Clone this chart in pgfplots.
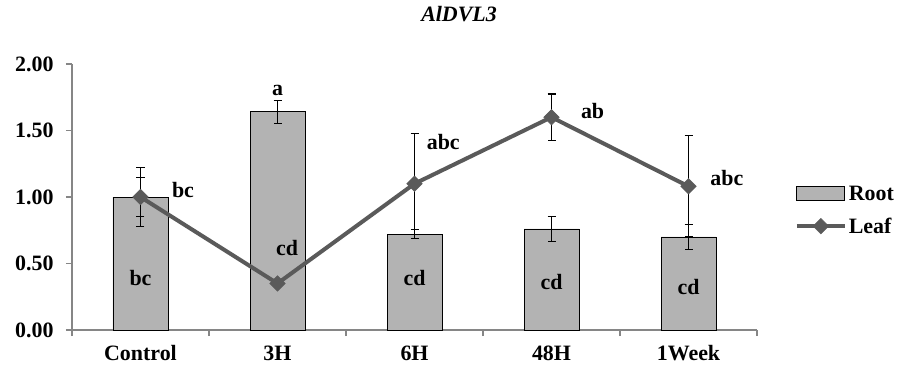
\documentclass[border=0pt]{standalone}
\usepackage{pgfplots}
\pgfplotsset{compat=1.18}
\usepackage{fontspec}
\setmainfont{Liberation Serif}
\definecolor{barfill}{RGB}{179,179,179}
\definecolor{leafline}{RGB}{90,90,90}
\definecolor{axisgray}{RGB}{134,134,134}
\newcommand{\lblfont}{\fontsize{22}{26}\selectfont\bfseries}
\pgfplotsset{
  leaflegend/.style={legend image code/.code={\draw[##1, mark repeat=2, mark phase=2] plot coordinates {(0bp,0bp) (24bp,0bp) (48bp,0bp)};}},
  rootlegend/.style={legend image code/.code={\draw[fill=barfill, draw=black, line width=0.8bp] (0bp,-7bp) rectangle (48bp,7bp);}},
}
\begin{document}
\begin{tikzpicture}
\useasboundingbox (-72bp,-36bp) rectangle (825bp,330bp);
\begin{axis}[
  at={(0,0)}, anchor=south west,
  scale only axis, width=685bp, height=266bp,
  xmin=-0.5, xmax=4.5, ymin=0, ymax=2,
  axis x line*=bottom, axis y line*=left,
  axis line style={axisgray, line width=1.2bp, -},
  tick align=outside,
  xtick={0,1,2,3,4},
  xticklabels={Control,3H,6H,48H,1Week},
  major x tick style={draw=none},
  minor xtick={-0.5,0.5,1.5,2.5,3.5,4.5},
  minor x tick style={axisgray, line width=1.2bp},
  minor tick length=6bp,
  ytick={0,0.5,1,1.5,2},
  major y tick style={axisgray, line width=1.2bp},
  major tick length=6bp,
  yticklabel style={xshift=-9bp, /pgf/number format/.cd, fixed, fixed zerofill, precision=2, assume math mode=true},
  xticklabel style={yshift=-6bp},
  tick label style={font=\lblfont},
  title={\textbf{\textit{AlDVL3}}},
  title style={at={(0.565,1.165)}, anchor=center, font=\fontsize{22}{26}\selectfont},
  legend style={at={(1.055,0.45)}, anchor=west, draw=none, fill=none, font=\lblfont, row sep=12bp, inner sep=0pt},
  legend cell align=left,
  clip=false,
]
\addplot[ybar, bar width=55bp, fill=barfill, draw=black, line width=0.8bp,
  rootlegend,
  error bars/.cd, y dir=both, y explicit,
  error bar style={black, line width=1.2bp},
  error mark options={black, line width=1.2bp, mark size=4bp, rotate=90}]
  coordinates {
    (0,1.00) +- (0,0.22)
    (1,1.64) +- (0,0.085)
    (2,0.72) +- (0,0.035)
    (3,0.76) +- (0,0.095)
    (4,0.70) +- (0,0.095)
  };
\addlegendentry{Root}
\addplot[leafline, line width=4bp, mark=square*, mark size=5.5bp,
  mark options={rotate=45, solid, line width=0.5bp, fill=leafline},
  leaflegend,
  error bars/.cd, y dir=both, y explicit,
  error bar style={black, line width=1.2bp},
  error mark options={black, line width=1.2bp, mark size=4bp, rotate=90}]
  coordinates {
    (0,1.00) +- (0,0.145)
    (1,0.35) +- (0,0.02)
    (2,1.10) +- (0,0.38)
    (3,1.60) +- (0,0.175)
    (4,1.08) +- (0,0.38)
  };
\addlegendentry{Leaf}
\node[font=\lblfont] at (axis cs:0,0.39) {bc};
\node[font=\lblfont] at (axis cs:0.31,1.05) {bc};
\node[font=\lblfont] at (axis cs:1.0,1.80) {a};
\node[font=\lblfont] at (axis cs:1.07,0.62) {cd};
\node[font=\lblfont] at (axis cs:2.21,1.41) {abc};
\node[font=\lblfont] at (axis cs:2.0,0.39) {cd};
\node[font=\lblfont] at (axis cs:3.30,1.65) {ab};
\node[font=\lblfont] at (axis cs:3.0,0.36) {cd};
\node[font=\lblfont] at (axis cs:4.28,1.14) {abc};
\node[font=\lblfont] at (axis cs:4.0,0.32) {cd};
\end{axis}
\end{tikzpicture}
\end{document}
